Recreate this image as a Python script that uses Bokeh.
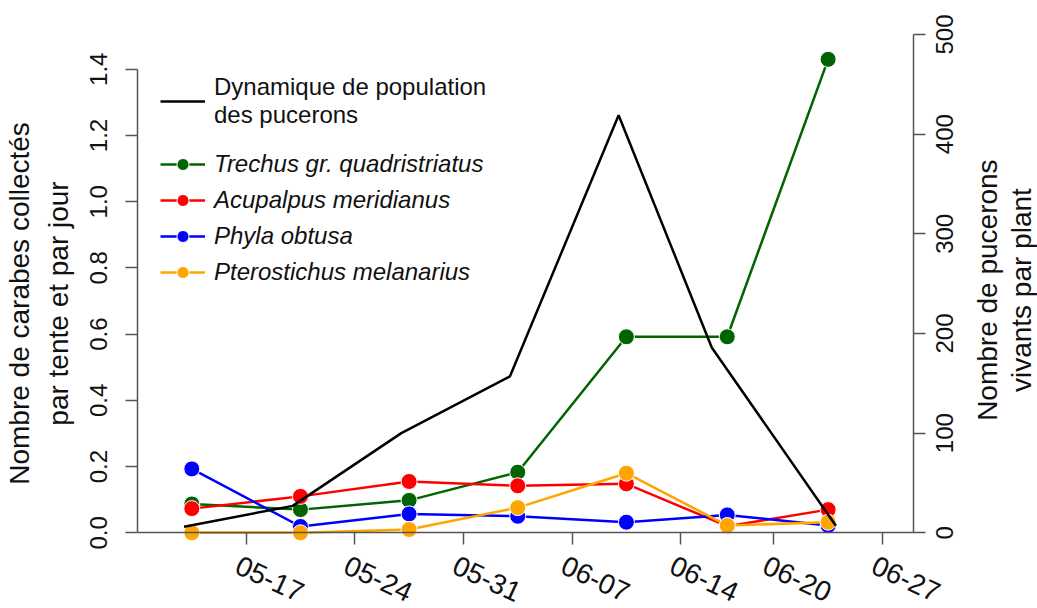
import math
from datetime import datetime, timedelta
import pandas as pd
from bokeh.plotting import figure
from bokeh.models import (Range1d, LinearAxis, FixedTicker, PrintfTickFormatter,
                          Legend, LegendItem, ColumnDataSource)
from bokeh.core.properties import value
from bokeh.embed import file_html
from bokeh.resources import INLINE

# ---------------- data ----------------
YEAR = 2015
beetle_dates = ["05-13 12:00", "05-20 12:00", "05-27 12:00", "06-03 12:00",
                "06-10 12:00", "06-17 00:00", "06-23 12:00"]
aphid_dates = ["05-13", "05-20", "05-27", "06-03", "06-10", "06-16", "06-24"]

trechus = [0.087, 0.070, 0.098, 0.183, 0.592, 0.592, 1.43]
acupalpus = [0.073, 0.110, 0.155, 0.142, 0.148, 0.020, 0.070]
phyla = [0.193, 0.019, 0.057, 0.050, 0.032, 0.054, 0.022]
pterostichus = [0.0, 0.0, 0.010, 0.076, 0.180, 0.022, 0.032]
aphids = [6, 27, 100, 157, 419, 186, 7]

species_names = ["Trechus gr. quadristriatus", "Acupalpus meridianus",
                 "Phyla obtusa", "Pterostichus melanarius"]
species_values = [trechus, acupalpus, phyla, pterostichus]
species_colors = ["#006400", "#FF0000", "#0000FF", "#FFA500"]

x_tick_labels = ["05-17", "05-24", "05-31", "06-07", "06-14", "06-20", "06-27"]
left_ticks = [0.0, 0.2, 0.4, 0.6, 0.8, 1.0, 1.2, 1.4]
right_ticks = [0, 100, 200, 300, 400, 500]
right_tick_labels = ["0", "100", "200", "300", "400", "500"]

left_label = "Nombre de carabes collectés\npar tente et par jour"
right_label_lines = ["Nombre de pucerons", "vivants par plant"]
aphid_label = "Dynamique de population\ndes pucerons"


def to_dt(s):
    return pd.to_datetime(f"{YEAR}-{s}")


bx = [to_dt(d) for d in beetle_dates]
ax_ = [to_dt(d) for d in aphid_dates]
x_ticks = [to_dt(t) for t in x_tick_labels]

# ---------------- styling / geometry ----------------
FONT = "Liberation Sans"
FS_TICK = "24px"
FS_BIG = "28px"
TXT = "#111111"
AXIS_COLOR = "#555555"

LEFT = 137            # frame left (page px)
W = 1037              # page width
FRAME_H = 606         # frame spans page y 0..606
Y0 = 532.3            # page y of the value 0 on both y scales
AXIS_PX = 498.3       # px from 0 to the top of the plotting area
AXIS_W = 776          # px from x_start to the end of the x axis

x_start = datetime(YEAR, 5, 10)
x_axis_end = datetime(YEAR, 6, 29)
y_left_top = 1.505
aph_max = 500

days_axis = (x_axis_end - x_start).total_seconds() / 86400
x_frame_end = x_start + timedelta(days=days_axis * (W - LEFT) / AXIS_W)


def yrange(vmax):
    per_px = vmax / AXIS_PX
    return Range1d(-(FRAME_H - Y0) * per_px, Y0 * per_px)


def ms(d):
    return pd.Timestamp(d).value / 1e6


p = figure(frame_width=W - LEFT, frame_height=FRAME_H,
           min_border_left=LEFT, min_border_right=0,
           min_border_top=0, min_border_bottom=0,
           x_axis_type="datetime",
           x_range=Range1d(x_start, x_frame_end),
           y_range=yrange(y_left_top),
           output_backend="svg", toolbar_location=None,
           background_fill_color="white", border_fill_color="white")
p.outline_line_color = None
p.grid.visible = False
p.extra_y_ranges = {"aphids": yrange(aph_max)}

# x axis: line + ticks at y = 0 (labels are rotated texts below)
xa = p.xaxis[0]
xa.ticker = FixedTicker(ticks=[], minor_ticks=[ms(t) for t in x_ticks])
xa.fixed_location = 0
xa.bounds = (ms(x_start), ms(x_axis_end))

# left axis
ya = p.yaxis[0]
ya.ticker = FixedTicker(ticks=left_ticks)
ya.formatter = PrintfTickFormatter(format="%.1f")
ya.bounds = (0, 1.4)
ya.major_label_orientation = "vertical"
ya.major_label_text_font_size = FS_TICK
ya.major_label_standoff = 18
ya.axis_label = left_label
ya.axis_label_standoff = 14
ya.axis_label_text_font = FONT
ya.axis_label_text_font_size = FS_BIG
ya.axis_label_text_font_style = "normal"
ya.axis_label_text_color = TXT
ya.axis_label_text_line_height = 1.25

# right axis: line + ticks at the end of the x axis
ra = LinearAxis(y_range_name="aphids",
                ticker=FixedTicker(ticks=[], minor_ticks=right_ticks),
                bounds=(0, aph_max), fixed_location=ms(x_axis_end))
p.add_layout(ra, "left")

for a in [xa, ya, ra]:
    a.axis_line_color = AXIS_COLOR
    a.axis_line_width = 1.5
    a.major_tick_line_color = AXIS_COLOR
    a.major_tick_line_width = 1.5
    a.minor_tick_line_color = AXIS_COLOR
    a.minor_tick_line_width = 1.5
    a.major_label_text_font = FONT
    a.major_label_text_color = TXT
ya.major_tick_out = 12
ya.major_tick_in = 0
ya.minor_tick_line_color = None
xa.major_tick_out = 0
xa.minor_tick_out = 12
xa.minor_tick_in = 0
ra.major_tick_out = 0
ra.major_tick_in = 0
ra.minor_tick_out = 0
ra.minor_tick_in = 12

# x tick labels (rotated)
p.text(x=x_ticks, y=[0] * len(x_ticks), text=x_tick_labels,
       angle=-math.radians(25), x_offset=-9, y_offset=31,
       text_align="left", text_baseline="middle",
       text_font=value(FONT), text_font_size=value(FS_BIG), text_color=TXT)

# right tick labels and title (reading bottom-to-top)
p.text(x=[x_axis_end] * len(right_ticks), y=right_ticks, text=right_tick_labels,
       y_range_name="aphids", angle=math.pi / 2, x_offset=31,
       text_align="center", text_baseline="middle",
       text_font=value(FONT), text_font_size=value(FS_TICK), text_color=TXT)
p.text(x=[x_axis_end] * 2, y=[aph_max * 0.487] * 2, text=right_label_lines,
       y_range_name="aphids", angle=math.pi / 2, x_offset=[74, 108],
       text_align="center", text_baseline="middle",
       text_font=value(FONT), text_font_size=value(FS_BIG), text_color=TXT)

# series
items = []
for name, vals, col in zip(species_names, species_values, species_colors):
    src = ColumnDataSource(dict(x=bx, y=vals))
    lr = p.line("x", "y", source=src, line_color=col, line_width=2.5)
    sr = p.scatter("x", "y", source=src, size=16, fill_color=col,
                   line_color="white", line_width=1)
    items.append(LegendItem(label=name, renderers=[lr, sr]))

asrc = ColumnDataSource(dict(x=ax_, y=aphids))
al = p.line("x", "y", source=asrc, y_range_name="aphids",
            line_color="black", line_width=2.5)

shift = FRAME_H - Y0
leg1 = Legend(items=[LegendItem(label=aphid_label, renderers=[al])],
              location=(23, 403 + shift))
leg2 = Legend(items=items, location=(23, 245 + shift))
for lg in (leg1, leg2):
    lg.border_line_color = None
    lg.background_fill_alpha = 0
    lg.padding = 0
    lg.margin = 0
    lg.glyph_width = 45
    lg.glyph_height = 30
    lg.label_height = 30
    lg.spacing = 6
    lg.label_standoff = 9
    lg.label_text_font = FONT
    lg.label_text_font_size = FS_TICK
    lg.label_text_color = TXT
    lg.label_text_line_height = 1.25
leg2.label_text_font_style = "italic"
p.add_layout(leg1)
p.add_layout(leg2)

open("out.html", "w").write(file_html(p, INLINE))
